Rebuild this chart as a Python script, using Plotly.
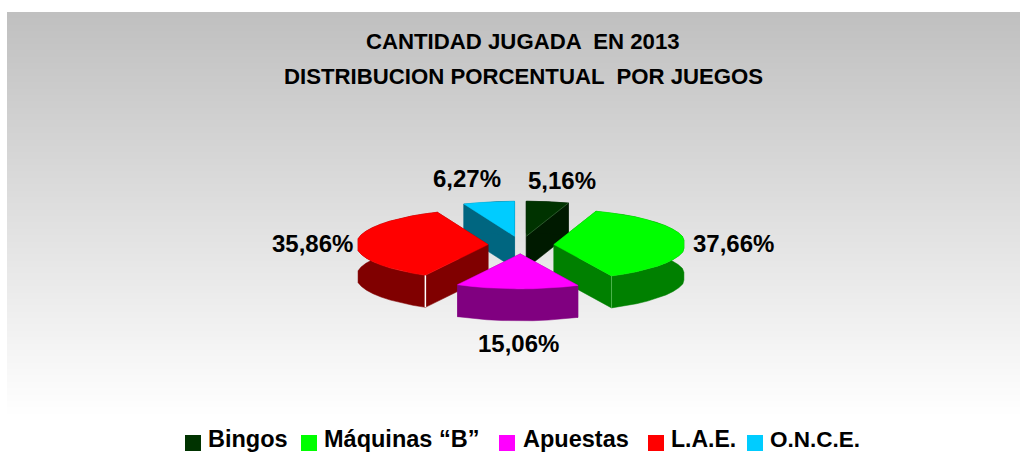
import math
import plotly.graph_objects as go

# --- data ---
categories = ["Bingos", "Máquinas “B”", "Apuestas", "L.A.E.", "O.N.C.E."]
percentages = [5.16, 37.66, 15.06, 35.86, 6.27]
top_colors = ["#003300", "#00FF00", "#FF00FF", "#FF0000", "#00CCFF"]
wall_colors = ["#001A00", "#008000", "#800080", "#800000", "#006680"]
title_lines = ["CANTIDAD JUGADA  EN 2013", "DISTRIBUCION PORCENTUAL  POR JUEGOS"]

# --- layout of the drawing (page pixels) ---
W, H = 1021, 452
CX, CY, RX, RY = 521, 245, 130, 35
RX_CLAMP = 130
RX_SHAPE = 132
DEPTH, EXPLODE = 32, 33
DRAW_ORDER = [4, 0, 3, 1, 2]
LABEL_POS = [(562, 180), (733, 243), (518, 343), (312, 243), (467, 178)]
SWATCH_X = [193, 309, 507, 656, 755]
LEGEND_TEXT_X = [206, 322, 521, 669, 768]
LEGEND_SIZES = [23.5, 23.5, 23.5, 23, 22.5]

total = sum(percentages)
fractions = [p / total for p in percentages]

fig = go.Figure()

# background gradient
y0, y_end = 12, 420
levels = 63
shapes = []
for i in range(levels + 1):
    a = y0 + (y_end - y0) * i / (levels + 1)
    g = 192 + i
    shapes.append(dict(type="rect", layer="below", x0=7, x1=1020, y0=a, y1=H,
                       fillcolor=f"rgb({g},{g},{g})", line_width=0))


def poly(xs, ys, color):
    fig.add_trace(go.Scatter(x=xs, y=ys, mode="lines", fill="toself", fillcolor=color,
                             line=dict(color=color, width=0.5), hoverinfo="skip", showlegend=False))


def pt(ax, ay, theta):
    dx = RX_SHAPE * math.sin(theta)
    dx = max(-RX_CLAMP, min(RX_CLAMP, dx))
    return ax + dx, ay - RY * math.cos(theta)


starts = []
acc = 0.0
for f in fractions:
    starts.append(acc)
    acc += f

for idx in DRAW_ORDER:
    t0 = starts[idx] * 2 * math.pi
    t1 = (starts[idx] + fractions[idx]) * 2 * math.pi
    mid = (t0 + t1) / 2
    ax = CX + EXPLODE * math.sin(mid)
    ay = CY - EXPLODE * RY / RX * math.cos(mid)
    n = max(2, int((t1 - t0) * 9))
    thetas = [t0 + (t1 - t0) * k / n for k in range(n + 1)]
    arc = [pt(ax, ay, t) for t in thetas]
    wall = wall_colors[idx]
    for (ex, ey) in (arc[0], arc[-1]):
        poly([ax, ex, ex, ax, ax], [ay, ey, ey + DEPTH, ay + DEPTH, ay], wall)
    xs = [p[0] for p in arc] + [p[0] for p in reversed(arc)] + [arc[0][0]]
    ys = [p[1] for p in arc] + [p[1] + DEPTH for p in reversed(arc)] + [arc[0][1]]
    poly(xs, ys, wall)
    poly([ax] + [p[0] for p in arc] + [ax], [ay] + [p[1] for p in arc] + [ay], top_colors[idx])
    if idx == 3:
        sx, sy = arc[0]
        fig.add_trace(go.Scatter(x=[sx, sx], y=[sy, sy + DEPTH], mode="lines",
                                 line=dict(color="#FFFFFF", width=1.5), hoverinfo="skip", showlegend=False))
    elif idx == 1:
        sx, sy = arc[-1]
        fig.add_trace(go.Scatter(x=[sx, sx], y=[sy, sy + DEPTH], mode="lines",
                                 line=dict(color="#4CB34C", width=1), hoverinfo="skip", showlegend=False))
    elif idx == 0:
        ex, ey = arc[-1]
        fig.add_trace(go.Scatter(x=[ax, ex], y=[ay, ey], mode="lines",
                                 line=dict(color="#3F6B3F", width=0.7), hoverinfo="skip", showlegend=False))

# legend swatches
fig.add_trace(go.Scatter(x=SWATCH_X, y=[443] * 5, mode="markers",
                         marker=dict(symbol="square", size=16, color=top_colors, line_width=0),
                         hoverinfo="skip", showlegend=False))

FONT = "Liberation Sans, Arial, sans-serif"
INK = "#000000"
ann = []
for line, y in zip(title_lines, (41, 76)):
    ann.append(dict(x=523, y=y, text=f"<b>{line}</b>", showarrow=False, xanchor="center", yanchor="middle",
                    font=dict(family=FONT, size=22.2, color=INK)))
for p, (x, y) in zip(percentages, LABEL_POS):
    ann.append(dict(x=x, y=y, text="<b>" + f"{p:.2f}".replace(".", ",") + "%</b>", showarrow=False,
                    xanchor="center", yanchor="middle", font=dict(family=FONT, size=24, color=INK)))
for c, x, s in zip(categories, LEGEND_TEXT_X, LEGEND_SIZES):
    ann.append(dict(x=x, y=439, text=f"<b>{c}</b>", showarrow=False, xanchor="left", yanchor="middle",
                    font=dict(family=FONT, size=s, color=INK)))

fig.update_layout(
    width=W, height=H, margin=dict(l=0, r=0, t=0, b=0), paper_bgcolor="white", plot_bgcolor="white",
    xaxis=dict(range=[0, W], visible=False, fixedrange=True),
    yaxis=dict(range=[H, 0], visible=False, fixedrange=True),
    shapes=shapes, annotations=ann, showlegend=False,
)
fig.write_html("out.html", config={"displayModeBar": False},
               post_script="document.body.style.margin='0';document.body.style.overflow='hidden';")
